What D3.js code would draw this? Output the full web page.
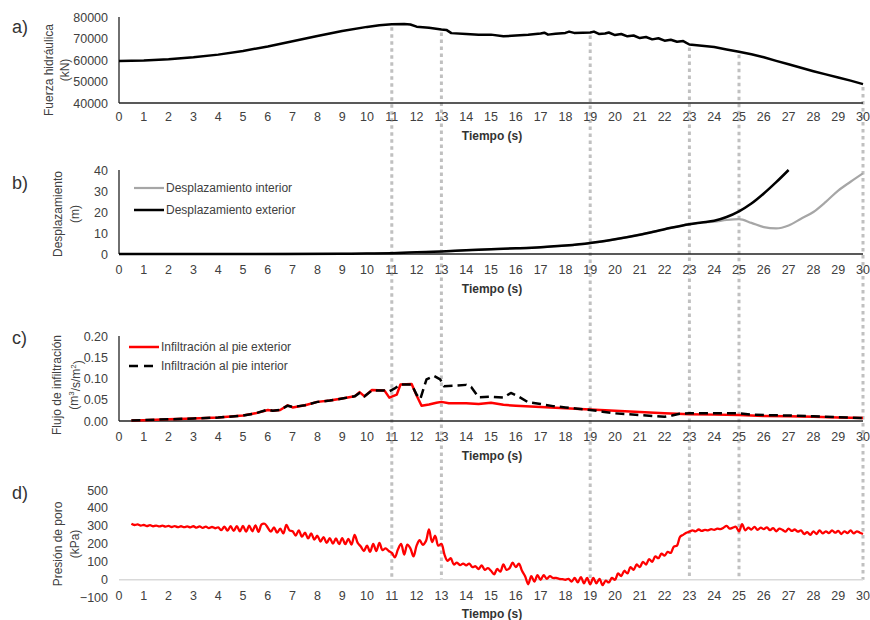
<!DOCTYPE html>
<html>
<head>
<meta charset="utf-8">
<script src="https://cdn.jsdelivr.net/npm/d3@7"></script>
<style>
  body { margin: 0; background: #fff; }
  text { font-family: "Liberation Sans", Arial, sans-serif; }
</style>
</head>
<body>
<div id="chart"></div>
<script>
///// Data

// a) hydraulic force [t (s), kN]
let forceData = [[0,59500],[1,59800],[2,60400],[3,61300],[4,62500],[5,64200],[6,66300],[7,68700],[8,71200],[9,73500],[10,75400],[10.5,76200],[11,76600],[11.5,76700],[11.75,76500],[12,75500],[12.5,75000],[13,74200],[13.2,74000],[13.4,72500],[14,72100],[14.5,71800],[15,71800],[15.5,71000],[16,71400],[16.5,71700],[17,72300],[17.15,72700],[17.3,71800],[17.6,72200],[18,72600],[18.15,73200],[18.35,72600],[18.7,72700],[19,72800],[19.15,73200],[19.35,72100],[19.6,72300],[19.75,72800],[20,71600],[20.25,72100],[20.5,71000],[20.75,71400],[21,70200],[21.25,70700],[21.5,69600],[21.75,70100],[22,69000],[22.25,69400],[22.5,68500],[22.75,68800],[23,67200],[23.5,66600],[24,66000],[24.5,64900],[25,63800],[25.5,62700],[26,61300],[26.5,59600],[27,58000],[27.5,56400],[28,54800],[28.5,53300],[29,51900],[29.5,50400],[30,48800]];

// b) displacement [t, m]
let dispExterior = [[0,0],[5,0],[9,0.1],[10,0.2],[11,0.4],[12,0.8],[13,1.2],[14,1.8],[15,2.3],[16,2.7],[17,3.2],[18,4.0],[19,5.2],[20,7.0],[21,9.2],[22,11.8],[23,14.2],[23.5,15.0],[24,15.8],[24.5,17.6],[25,20.3],[25.5,24.0],[26,28.8],[26.5,34.2],[27,40]];
let dispInterior = [[0,0],[5,0],[9,0.1],[10,0.2],[11,0.4],[12,0.8],[13,1.2],[14,1.8],[15,2.3],[16,2.7],[17,3.2],[18,4.0],[19,5.2],[20,7.0],[21,9.2],[22,11.8],[23,14.2],[23.5,15.0],[24,15.4],[24.5,16.2],[25,16.6],[25.5,14.8],[26,12.8],[26.5,12.2],[27,13.6],[27.5,16.8],[28,20.0],[28.5,24.8],[29,30.2],[29.5,34.4],[30,38.4]];

// c) seepage flux [t, m3/s/m2]
let fluxExterior = [[0.5,0.001],[1,0.002],[2,0.004],[3,0.006],[4,0.008],[5,0.013],[5.5,0.018],[6,0.026],[6.2,0.024],[6.5,0.026],[6.8,0.037],[7,0.032],[7.5,0.037],[8,0.045],[8.5,0.048],[9,0.053],[9.5,0.058],[9.7,0.068],[9.9,0.058],[10.2,0.073],[10.7,0.072],[10.9,0.055],[11.2,0.062],[11.35,0.086],[11.8,0.087],[12,0.060],[12.2,0.036],[12.5,0.039],[12.8,0.043],[13,0.045],[13.3,0.042],[14,0.042],[14.5,0.040],[15,0.043],[15.5,0.038],[16,0.036],[17,0.033],[18,0.030],[19,0.027],[20,0.024],[21,0.021],[22,0.018],[23,0.016],[24,0.015],[25,0.014],[26,0.012],[27,0.011],[28,0.010],[29,0.008],[30,0.007]];
let fluxInterior = [[0.5,0.001],[1,0.002],[2,0.004],[3,0.006],[4,0.008],[5,0.013],[5.5,0.018],[6,0.027],[6.2,0.024],[6.5,0.026],[6.8,0.036],[7,0.033],[7.5,0.037],[8,0.045],[8.5,0.048],[9,0.053],[9.5,0.058],[9.7,0.066],[9.9,0.058],[10.2,0.072],[10.7,0.072],[10.9,0.070],[11.1,0.076],[11.35,0.086],[11.8,0.086],[12,0.062],[12.15,0.052],[12.4,0.098],[12.7,0.106],[12.95,0.098],[13.1,0.082],[13.5,0.083],[14,0.085],[14.2,0.080],[14.5,0.056],[15,0.057],[15.5,0.055],[15.8,0.066],[16.1,0.058],[16.5,0.044],[17,0.040],[17.5,0.035],[18,0.032],[18.5,0.029],[19,0.026],[19.5,0.022],[20,0.018],[20.5,0.016],[21,0.014],[21.5,0.012],[22,0.010],[22.3,0.013],[22.6,0.017],[23,0.018],[24,0.018],[25,0.018],[25.5,0.015],[26,0.014],[27,0.013],[28,0.011],[29,0.009],[30,0.007]];

// d) pore pressure (kPa), sampled every 0.125 s from t = 0.5 s
let poreStart = 0.5, poreStep = 0.125;
let poreValues = [
  312, 305, 308, 302,
  305, 299, 304, 298, 302, 297, 301, 296,
  300, 294, 299, 293, 298, 293, 297, 292,
  298, 290, 297, 289, 296, 288, 294, 287,
  292, 276, 296, 274, 298, 272, 299, 270,
  300, 268, 302, 270, 303, 267, 308, 312,
  290, 268, 292, 262, 285, 258, 305, 275,
  270, 246, 275, 240, 262, 230, 258, 224,
  245, 213, 238, 205, 232, 201, 230, 198,
  232, 198, 228, 196, 250, 205, 185, 160,
  190, 155, 200, 160, 205, 165, 175, 160,
  150, 125, 170, 200, 140, 195, 175, 130,
  190, 220, 195, 215, 280, 210, 245, 190,
  200, 140, 105, 120, 85, 95, 82, 90,
  80, 90, 70, 75, 60, 80, 55, 65,
  50, 30, 60, 45, 85, 55, 65, 95,
  70, 90, 50, 20, -25, 20, -10, 25,
  0, 25, 5, 20, 10, 10, 5, 3,
  0, 5, -10, 10, -15, 15, -20, 10,
  -25, 10, -20, 5, -30, -5, -15, 10,
  0, 35, 20, 50, 35, 70, 55, 85,
  70, 100, 85, 115, 100, 130, 120, 145,
  135, 155, 150, 185, 190, 240, 250, 262,
  268, 275, 270, 280, 272, 278, 275, 282,
  278, 285, 282, 290, 300, 285, 290, 295,
  270, 310, 275, 290, 280, 295, 278, 290,
  282, 292, 276, 288, 270, 285, 278, 268,
  285, 272, 280, 268, 275, 255, 265, 250,
  270, 255, 275, 258, 270, 260, 275, 262,
  272, 255, 270, 260, 275, 258, 270, 262,
  255
];

// tick labels / markers
let timeTicks = d3.range(0, 31);
let markerTimes = [11, 13, 19, 23, 25, 30];
let forceTicks = [40000, 50000, 60000, 70000, 80000];
let dispTicks = [0, 10, 20, 30, 40];
let fluxTicks = [0, 0.05, 0.10, 0.15, 0.20];
let poreTicks = [-100, 0, 100, 200, 300, 400, 500];

///// Canvas

let width = 870, height = 620;
let svg = d3.select("#chart").append("svg")
    .attr("width", width)
    .attr("height", height);

let x = d3.scaleLinear().domain([0, 30]).range([119, 863]);

let panels = {
    a: { y: d3.scaleLinear().domain([40000, 80000]).range([103, 17]), tickY: 117, timeY: 136 },
    b: { y: d3.scaleLinear().domain([0, 40]).range([254, 170]), tickY: 270, timeY: 289 },
    c: { y: d3.scaleLinear().domain([0, 0.2]).range([421, 336]), tickY: 437, timeY: 456 },
    d: { y: d3.scaleLinear().domain([-100, 500]).range([597.7, 490]), tickY: 596, timeY: 614 }
};

let poreData = poreValues.map(function(v, i) { return [poreStart + i * poreStep, v]; });

// vertical dotted markers (drawn first, behind lines)
let forceAt = function(t) {
    for (let i = 1; i < forceData.length; i++) {
        if (forceData[i][0] >= t) {
            let a = forceData[i - 1], b = forceData[i];
            return a[1] + (b[1] - a[1]) * (t - a[0]) / (b[0] - a[0]);
        }
    }
    return forceData[forceData.length - 1][1];
};

svg.append("g").selectAll("line")
    .data(markerTimes)
    .enter().append("line")
    .attr("x1", function(d) { return x(d); })
    .attr("x2", function(d) { return x(d); })
    .attr("y1", function(d) { return panels.a.y(forceAt(d)) + 3; })
    .attr("y2", panels.d.y(0))
    .attr("stroke", "#c0c0c0")
    .attr("stroke-width", 3)
    .attr("stroke-dasharray", "3.5,3.5");

function drawAxes(p, ticks, fmt, withLines) {
    let yAx = svg.append("g")
        .attr("transform", "translate(119,0)")
        .call(d3.axisLeft(p.y).tickValues(ticks).tickSize(0).tickPadding(11).tickFormat(fmt));
    yAx.select(".domain").remove();
    yAx.selectAll("text")
        .attr("font-size", 12.5)
        .attr("fill", "#404040")
        .attr("font-family", "Liberation Sans, Arial, sans-serif");

    // time tick labels
    svg.append("g").selectAll("text")
        .data(timeTicks)
        .enter().append("text")
        .attr("x", function(d) { return x(d); })
        .attr("y", p.tickY)
        .attr("dy", "0.35em")
        .attr("text-anchor", "middle")
        .attr("font-size", 12.5)
        .attr("fill", "#404040")
        .text(function(d) { return d; });

    svg.append("text")
        .attr("x", 492)
        .attr("y", p.timeY)
        .attr("dy", "0.35em")
        .attr("text-anchor", "middle")
        .attr("font-size", 12)
        .attr("font-weight", "bold")
        .attr("fill", "#333")
        .text("Tiempo (s)");

    if (withLines) {
        let r = p.y.range();
        svg.append("line")
            .attr("x1", 119).attr("x2", 119)
            .attr("y1", r[1]).attr("y2", r[0])
            .attr("stroke", "#222").attr("stroke-width", 1.3);
        svg.append("line")
            .attr("x1", 119).attr("x2", 863)
            .attr("y1", r[0]).attr("y2", r[0])
            .attr("stroke", "#222").attr("stroke-width", 1.3);
    } else {
        svg.append("line")
            .attr("x1", 119).attr("x2", 863)
            .attr("y1", p.y(0)).attr("y2", p.y(0))
            .attr("stroke", "#d9d9d9").attr("stroke-width", 1.3);
    }
}

function yTitle(lines, xs, cy) {
    lines.forEach(function(l, i) {
        let t = svg.append("text")
            .attr("transform", "translate(" + xs[i] + "," + cy + ") rotate(-90)")
            .attr("text-anchor", "middle")
            .attr("dy", "0.35em")
            .attr("font-size", 12)
            .attr("fill", "#404040");
        if (typeof l === "string") t.text(l);
        else l(t);
    });
}

function panelLetter(s, cy) {
    svg.append("text")
        .attr("x", 12).attr("y", cy)
        .attr("dy", "0.35em")
        .attr("font-size", 18)
        .attr("fill", "#333")
        .text(s);
}

function drawLine(p, data, color, w, dash, curve) {
    let line = d3.line()
        .x(function(d) { return x(d[0]); })
        .y(function(d) { return p.y(d[1]); })
        .curve(curve || d3.curveMonotoneX);
    let path = svg.append("path")
        .datum(data)
        .attr("fill", "none")
        .attr("stroke", color)
        .attr("stroke-width", w)
        .attr("stroke-linejoin", "round")
        .attr("d", line);
    if (dash) path.attr("stroke-dasharray", dash);
}

///// Panel a
drawAxes(panels.a, forceTicks, d3.format("d"), true);
drawLine(panels.a, forceData, "#000", 2.5, null, d3.curveLinear);
yTitle(["Fuerza hidráulica", "(kN)"], [49, 65], 70);
panelLetter("a)", 27);

///// Panel b
drawAxes(panels.b, dispTicks, d3.format("d"), true);
drawLine(panels.b, dispInterior, "#a6a6a6", 2.2);
drawLine(panels.b, dispExterior, "#000", 2.5);
yTitle(["Desplazamiento", "(m)"], [58, 75], 214);
panelLetter("b)", 183);

///// Panel c
drawAxes(panels.c, fluxTicks, d3.format(".2f"), true);
drawLine(panels.c, fluxExterior, "#ff0000", 2.5, null, d3.curveLinear);
drawLine(panels.c, fluxInterior, "#000", 2.5, "9,5", d3.curveLinear);
yTitle([
    "Flujo de infiltración",
    function(t) {
        t.append("tspan").text("(m");
        t.append("tspan").attr("font-size", 8).attr("dy", "-0.5em").text("3");
        t.append("tspan").attr("dy", "0.5em").text("/s/m");
        t.append("tspan").attr("font-size", 8).attr("dy", "-0.5em").text("2");
        t.append("tspan").attr("dy", "0.5em").text(")");
    }
], [57, 74], 385);
panelLetter("c)", 338);

///// Panel d
drawAxes(panels.d, poreTicks, d3.format("d"), false);
drawLine(panels.d, poreData, "#ff0000", 2.3, null, d3.curveCatmullRom);
yTitle(["Presión de poro", "(kPa)"], [58, 75], 544);
panelLetter("d)", 493);

///// Legends
function legendItem(x0, y0, color, w, dash, label) {
    let l = svg.append("line")
        .attr("x1", x0).attr("x2", x0 + 30)
        .attr("y1", y0).attr("y2", y0)
        .attr("stroke", color).attr("stroke-width", w);
    if (dash) l.attr("stroke-dasharray", dash);
    svg.append("text")
        .attr("x", x0 + 32).attr("y", y0)
        .attr("dy", "0.35em")
        .attr("font-size", 12)
        .attr("fill", "#404040")
        .text(label);
}
legendItem(134, 188, "#a6a6a6", 2.2, null, "Desplazamiento interior");
legendItem(134, 210, "#000", 2.5, null, "Desplazamiento exterior");
legendItem(129, 347, "#ff0000", 2.5, null, "Infiltración al pie exterior");
legendItem(129, 366, "#000", 2.5, "9,6", "Infiltración al pie interior");
</script>
</body>
</html>
